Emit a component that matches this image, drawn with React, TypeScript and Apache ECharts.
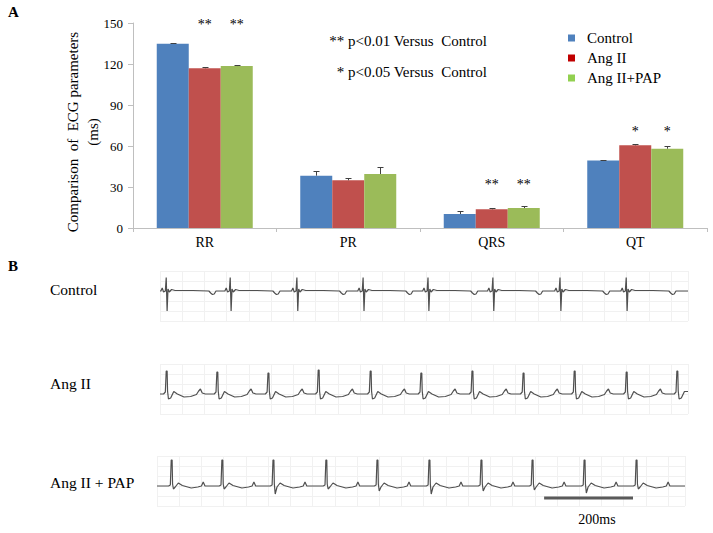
import React, { useEffect, useRef } from "react";
import * as echarts from "echarts";

// ---------- Panel A data ----------
const categories = ["RR", "PR", "QRS", "QT"];
const seriesNames = ["Control", "Ang II", "Ang II+PAP"];
const controlValues = [134.8, 38.3, 10.2, 49.3];
const controlErr = [0.4, 3.4, 2.2, 0.4];
const angValues = [116.9, 34.9, 13.7, 60.5];
const angErr = [0.8, 1.5, 0.8, 1.0];
const papValues = [118.5, 39.5, 14.6, 58.0];
const papErr = [0.6, 5.0, 1.3, 2.2];
const angSig = ["**", "", "**", "*"];
const papSig = ["**", "", "**", "*"];
const sigHeight = [151.5, 0, 34.4, 73.2];
const yTicks = { min: 0, max: 150, interval: 30 };

// ---------- Panel B data (ms, amplitude in 0.1-units) ----------
const traceLength = 1188;
const controlBeats = [14, 158, 308, 457, 603, 749, 900, 1049];
const angBeats = [14, 128, 243, 356, 473, 587, 702, 817, 932, 1049, 1163];
const angPeaks = [2.3, 2.2, 2.1, 2.4, 2.3, 2.1, 2.3, 2.1, 2.3, 2.2, 2.3];
const papBeats = [32, 146, 261, 380, 495, 612, 729, 844, 961, 1078];
const papSDepth = [-0.3, -0.3, -0.8, -0.3, -0.5, -0.8, -0.5, -0.4, -0.7, -0.3];
const controlTemplate: [number, number | string][] = [
  [-12, 0], [-9, 0.3], [-6, -0.1], [-2, 0], [0, 1.35], [1, 1.35], [2, -2.0], [3, -2.0],
  [4, 0.2], [7, -0.1], [12, 0.15], [20, 0.05], [60, 0.05], [96, 0], [100, -0.2],
  [104, -0.35], [108, -0.3], [112, 0],
];
const angTemplate: [number, number | string][] = [
  [-6, 0], [-2, 0.2], [0, "R"], [2, "R"], [3, 0.3], [5, -0.5], [10, -0.4], [17, 0.25],
  [25, 0], [40, -0.3], [55, -0.25], [68, -0.05], [73, 0.3], [77, 0.5], [81, 0.1], [88, 0],
];
const papTemplate: [number, number | string][] = [
  [-6, 0], [-2, 0.1], [0, 2.6], [2, 2.6], [3, 0.2], [5, "S"], [9, -0.1], [16, 0.3],
  [25, 0.05], [45, -0.2], [60, -0.1], [68, 0], [72, 0.4], [76, 0], [90, 0],
];
const scaleBar = [[871, -1.2], [1071, -1.2]];

const SERIF = "'Liberation Serif', 'DejaVu Serif', serif";

function buildTrace(
  beats: number[],
  template: [number, number | string][],
  opts: { R?: number[]; S?: number[] } = {}
) {
  const pts: number[][] = [[0, 0]];
  beats.forEach((b, i) => {
    template.forEach(([dt, y]) => {
      let v: number;
      if (y === "R") v = opts.R ? opts.R[i] : 0;
      else if (y === "S") v = opts.S ? opts.S[i] : 0;
      else v = y as number;
      const t = b + dt;
      if (t > 0 && t < traceLength) pts.push([t, v]);
    });
  });
  pts.push([traceLength, pts[pts.length - 1][1]]);
  return pts;
}

export default function App() {
  const ref = useRef<HTMLDivElement>(null);
  useEffect(() => {
    if (!ref.current) return;
    const chart = echarts.init(ref.current, undefined, { renderer: "svg" });
    const groups = [
      { v: controlValues, e: controlErr },
      { v: angValues, e: angErr },
      { v: papValues, e: papErr },
    ];
    const errData: number[][] = [];
    groups.forEach((g, gi) => g.v.forEach((v, i) => errData.push([i, v, g.e[i], gi])));
    const sigData: any[] = [];
    [angSig, papSig].forEach((arr, k) =>
      arr.forEach((s, i) => {
        if (s) sigData.push({ value: [i, sigHeight[i], k + 1], sig: s });
      })
    );
    const gridLine = { show: true, lineStyle: { color: "#f1f1f1", width: 1 } };
    const ecgX = (gi: number) => ({
      type: "value", gridIndex: gi, min: 0, max: traceLength, interval: 50,
      axisLine: { show: false }, axisTick: { show: false }, axisLabel: { show: false },
      splitLine: gridLine,
    });
    const ecgY = (gi: number, min: number, max: number) => ({
      type: "value", gridIndex: gi, min, max, interval: 1,
      axisLine: { show: false }, axisTick: { show: false }, axisLabel: { show: false },
      splitLine: gridLine,
    });
    const ecgLine = (idx: number, data: number[][]) => ({
      type: "line", xAxisIndex: idx, yAxisIndex: idx, data, symbol: "none", silent: true,
      lineStyle: { color: "#505050", width: 1.2 }, z: 3,
    });
    const txt = (text: string, x: number, y: number, extra: any = {}) => ({
      type: "text", x, y,
      style: {
        text, fill: "#000", fontFamily: SERIF, fontSize: 15,
        align: "left", textAlign: "left", verticalAlign: "middle", textVerticalAlign: "middle",
        ...extra,
      },
    });

    chart.setOption({
      animation: false,
      grid: [
        { left: 133, top: 23, width: 574, height: 205, outerBoundsMode: "none" },
        { left: 160, top: 271, width: 528, height: 50, outerBoundsMode: "none" },
        { left: 160, top: 364, width: 528, height: 50, outerBoundsMode: "none" },
        { left: 157, top: 456, width: 528, height: 50, outerBoundsMode: "none" },
      ],
      legend: {
        orient: "vertical", left: 563, top: 25, itemWidth: 7, itemHeight: 7, itemGap: 4,
        icon: "rect",
        textStyle: { fontFamily: SERIF, fontSize: 15, color: "#000", lineHeight: 16, padding: [0, 0, 0, 7] },
        data: [
          { name: "Control", itemStyle: { color: "#4F81BD" } },
          { name: "Ang II", itemStyle: { color: "#C00000" } },
          { name: "Ang II+PAP", itemStyle: { color: "#92D050" } },
        ],
        selectedMode: false,
      },
      xAxis: [
        {
          type: "category", gridIndex: 0, data: categories,
          axisLine: { lineStyle: { color: "#BFBFBF" } },
          axisTick: { show: true, length: 4, lineStyle: { color: "#BFBFBF" } },
          axisLabel: { color: "#000", fontFamily: SERIF, fontSize: 14, margin: 7 },
        },
        ecgX(1), ecgX(2), ecgX(3),
      ],
      yAxis: [
        {
          type: "value", gridIndex: 0, min: yTicks.min, max: yTicks.max, interval: yTicks.interval,
          axisLine: { show: true, lineStyle: { color: "#BFBFBF" } },
          axisTick: { show: true, length: 5, lineStyle: { color: "#BFBFBF" } },
          axisLabel: { color: "#000", fontFamily: SERIF, fontSize: 13, margin: 10 },
          splitLine: { show: false },
        },
        ecgY(1, -3, 2), ecgY(2, -2, 3), ecgY(3, -2, 3),
      ],
      series: [
        { name: seriesNames[0], type: "bar", data: controlValues, barWidth: 32, barGap: "0%", itemStyle: { color: "#4F81BD" } },
        { name: seriesNames[1], type: "bar", data: angValues, barWidth: 32, barGap: "0%", itemStyle: { color: "#C0504D" } },
        { name: seriesNames[2], type: "bar", data: papValues, barWidth: 32, barGap: "0%", itemStyle: { color: "#9BBB59" } },
        {
          type: "custom", xAxisIndex: 0, yAxisIndex: 0, data: errData, z: 5, silent: true,
          renderItem: (params: any, api: any) => {
            const cat = api.value(0), val = api.value(1), err = api.value(2), g = api.value(3);
            const base = api.coord([cat, val]);
            const top = api.coord([cat, val + err]);
            const x = Math.round(base[0] + (g - 1) * 32) + 0.5;
            const ty = Math.round(top[1]) + 0.5;
            return {
              type: "group",
              children: [
                { type: "line", shape: { x1: x, y1: base[1], x2: x, y2: ty }, style: { stroke: "#404040", lineWidth: 1 } },
                { type: "line", shape: { x1: x - 3, y1: ty, x2: x + 3, y2: ty }, style: { stroke: "#404040", lineWidth: 1 } },
              ],
            };
          },
        },
        {
          type: "custom", xAxisIndex: 0, yAxisIndex: 0, data: sigData, z: 6, silent: true, clip: false,
          renderItem: (params: any, api: any) => {
            const cat = api.value(0), h = api.value(1), g = api.value(2);
            const p = api.coord([cat, h]);
            const s = sigData[params.dataIndex].sig;
            return {
              type: "text", x: p[0] + (g - 1) * 32, y: p[1] + 4,
              style: {
                text: s, fill: "#000", fontFamily: SERIF, fontSize: 14,
                align: "center", textAlign: "center", verticalAlign: "middle", textVerticalAlign: "middle",
              },
            };
          },
        },
        ecgLine(1, buildTrace(controlBeats, controlTemplate)),
        ecgLine(2, buildTrace(angBeats, angTemplate, { R: angPeaks })),
        ecgLine(3, buildTrace(papBeats, papTemplate, { S: papSDepth })),
        {
          type: "line", xAxisIndex: 3, yAxisIndex: 3, data: scaleBar, symbol: "none", silent: true,
          lineStyle: { color: "#5a5a5a", width: 3 }, z: 4,
        },
      ],
      graphic: [
        txt("A", 8, 12, { fontWeight: "bold", fontSize: 15 }),
        txt("B", 8, 266, { fontWeight: "bold", fontSize: 15 }),
        {
          type: "text", x: 83, y: 132, rotation: Math.PI / 2,
          style: {
            text: "Comparison  of  ECG parameters\n(ms)", fill: "#000", fontFamily: SERIF, fontSize: 15,
            lineHeight: 20, align: "center", textAlign: "center", verticalAlign: "middle", textVerticalAlign: "middle",
          },
        },
        txt("** p<0.01 Versus  Control", 487, 41, { align: "right", textAlign: "right" }),
        txt("* p<0.05 Versus  Control", 487, 72, { align: "right", textAlign: "right" }),
        txt("Control", 50, 289, { fontSize: 15.5 }),
        txt("Ang II", 50, 383, { fontSize: 15.5 }),
        txt("Ang II + PAP", 50, 482, { fontSize: 15.5 }),
        txt("200ms", 597, 519, { fontSize: 14, align: "center", textAlign: "center" }),
      ],
    });
    return () => chart.dispose();
  }, []);
  return (
    <div
      ref={ref}
      style={{ position: "fixed", left: 0, top: 0, width: 713, height: 533, background: "#fff" }}
    />
  );
}
